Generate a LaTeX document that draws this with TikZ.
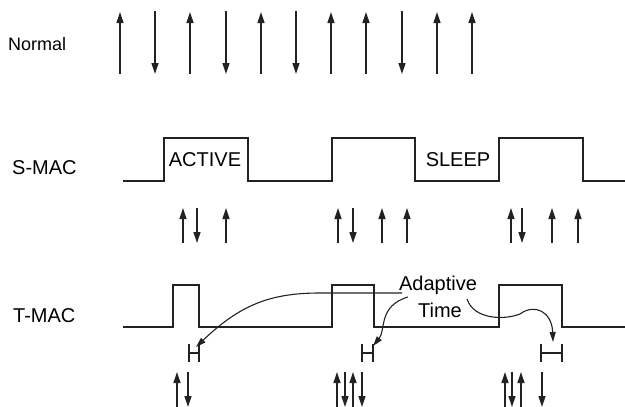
\documentclass[tikz,border=0pt]{standalone}
\usepackage{fontspec}
\setmainfont{Liberation Sans}
\usetikzlibrary{arrows.meta}
\definecolor{ink}{HTML}{222222}
\begin{document}
\begin{tikzpicture}[x=1pt,y=-1pt,
  wave/.style={draw=ink,line width=1.3pt,line join=miter},
  arr/.style={draw=ink,line width=1.3pt,-{Triangle[length=11pt,width=7pt]}},
  curv/.style={draw=ink,line width=1.1pt,-{Triangle[length=10pt,width=6pt]}},
  lbl/.style={inner sep=0pt,font=\fontsize{20}{24}\selectfont,text=black},
  hbar/.style={draw=ink,line width=1.3pt}]
\useasboundingbox (0,0) rectangle (625,407);

% labels
\node[lbl,font=\fontsize{18}{22}\selectfont,anchor=west] (lnormal) at (8,44) {Normal};
\node[lbl,anchor=west] (lsmac) at (12,168) {S-MAC};
\node[lbl,anchor=west] (ltmac) at (13,316) {T-MAC};

% Normal arrows
\foreach \x in {120,190,261,331,366,437,472} \draw[arr] (\x,74) -- (\x,12);
\foreach \x in {155,226,296,402} \draw[arr] (\x,11) -- (\x,74);

% S-MAC waveform
\draw[wave] (123,181) -- (164,181) -- (164,138) -- (248,138) -- (248,181)
  -- (332,181) -- (332,138) -- (415,138) -- (415,181)
  -- (499,181) -- (499,138) -- (583,138) -- (583,181) -- (625,181);
\node[lbl] (active) at (205,160) {ACTIVE};
\node[lbl] (sleep) at (458,160) {SLEEP};

% S-MAC arrows
\foreach \x in {183,226,338,382,407,511,552,578} \draw[arr] (\x,243) -- (\x,208);
\foreach \x in {197,353,522} \draw[arr] (\x,208) -- (\x,243);

% T-MAC waveform
\draw[wave] (123,327) -- (173,327) -- (173,285) -- (199,285) -- (199,327)
  -- (332,327) -- (332,285) -- (374,285) -- (374,327)
  -- (499,327) -- (499,285) -- (562,285) -- (562,327) -- (625,327);

% H markers
\foreach \a/\b/\n in {189/199/1,362/373/2,541/562/3}{
  \draw[hbar] (\a,344) -- (\a,362) (\b,344) -- (\b,362) (\a,353) -- (\b,353);
  \coordinate (h\n) at ({(\a+\b)/2},353);
}

% Adaptive time label
\node[lbl] (adapt) at (438,285) {Adaptive};
\node[lbl] (time) at (440,310) {Time};
\coordinate (c1) at (402,293);
\coordinate (c2) at (408,297);
\coordinate (c3) at (467,299);
\coordinate (t1) at (196,347);
\coordinate (t2) at (373,346);
\coordinate (t3) at (553,342);
\draw[curv] (c1) -- (320,293) .. controls (270,293) and (240,305) .. (t1);
\draw[curv] (c2) .. controls (378,306) and (386,330) .. (t2);
\draw[curv] (c3) .. controls (474,320) and (505,320) .. (520,314)
  .. controls (535,303) and (552,312) .. (t3);

% T-MAC arrows
\foreach \x in {177,337,353,505,521} \draw[arr] (\x,407) -- (\x,372);
\foreach \x in {188,345,362,512,542} \draw[arr] (\x,372) -- (\x,407);
\end{tikzpicture}
\end{document}
